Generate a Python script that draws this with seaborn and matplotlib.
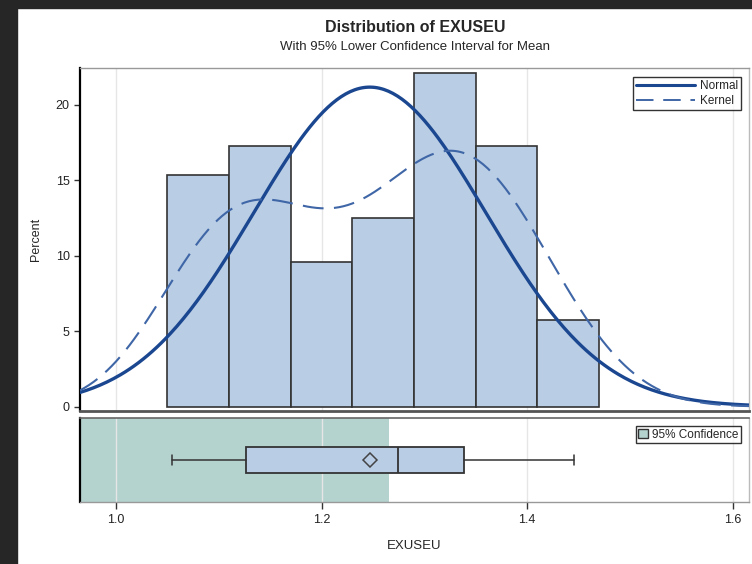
import numpy as np
import matplotlib
matplotlib.use("Agg")
import matplotlib.pyplot as plt
import seaborn as sns
from matplotlib.lines import Line2D
from matplotlib.patches import Patch, Rectangle

# histogram bins (EXUSEU) and percent per bin
bin_edges = [1.05, 1.11, 1.17, 1.23, 1.29, 1.35, 1.41, 1.47]
bin_counts = [16, 18, 10, 13, 23, 18, 6]
n_obs = sum(bin_counts)
bin_percent = [100 * c / n_obs for c in bin_counts]
bin_mids = [(a + b) / 2 for a, b in zip(bin_edges[:-1], bin_edges[1:])]

# summary statistics
mean_val = 1.247
std_val = 0.113
kde_bw = 0.06
box_stats = {"whislo": 1.055, "q1": 1.127, "med": 1.274, "q3": 1.339,
             "whishi": 1.446, "mean": 1.247, "fliers": []}
conf_upper = 1.266

x_ticks = [1.0, 1.2, 1.4, 1.6]
y_ticks = [0, 5, 10, 15, 20]

bar_color = "#B9CDE5"
normal_color = "#1B4790"
kernel_color = "#3F66A6"
band_color = "#B4D3CF"
grid_color = "#E6E6E6"

sns.set_style("white")
plt.rcParams["font.family"] = ["Liberation Sans", "DejaVu Sans"]

fig = plt.figure(figsize=(7.52, 5.64), dpi=100)
# dark screenshot border
fig.patches.append(Rectangle((0, 1 - 8 / 564), 1, 8 / 564, transform=fig.transFigure,
                             color="#262626", zorder=-1))
fig.patches.append(Rectangle((0, 0), 17 / 752, 1, transform=fig.transFigure,
                             color="#262626", zorder=-1))

ax = fig.add_axes([0.1064, 0.2718, 0.8896, 0.6076])
axb = fig.add_axes([0.1064, 0.110, 0.8896, 0.149], sharex=ax)

# histogram
sns.histplot(x=bin_mids, weights=bin_percent, bins=bin_edges, ax=ax,
             color=bar_color, edgecolor="#333333", linewidth=1.2, alpha=1, zorder=2)

xs = np.linspace(0.965, 1.62, 300)
normal_y = 100 * (bin_edges[1] - bin_edges[0]) * np.exp(-0.5 * ((xs - mean_val) / std_val) ** 2) / (std_val * np.sqrt(2 * np.pi))
mids = np.array(bin_mids)[:, None]
w = np.array(bin_counts)[:, None] / n_obs
kernel_y = 100 * (bin_edges[1] - bin_edges[0]) * (w * np.exp(-0.5 * ((xs - mids) / kde_bw) ** 2) / (kde_bw * np.sqrt(2 * np.pi))).sum(axis=0)

sns.lineplot(x=xs, y=normal_y, ax=ax, color=normal_color, linewidth=2.4, zorder=3)
sns.lineplot(x=xs, y=kernel_y, ax=ax, color=kernel_color, linewidth=1.5,
             dashes=False, zorder=3).lines[-1].set_dashes([10, 5])

ax.set_xlim(0.965, 1.616)
ax.set_ylim(-0.27, 22.45)
ax.set_yticks(y_ticks)
ax.set_ylabel("Percent", fontsize=9, labelpad=10)
ax.set_xlabel("")
ax.tick_params(axis="x", bottom=False, labelbottom=False)
ax.tick_params(axis="y", left=True, length=4, width=1, labelsize=9, color="#333333",
               labelcolor="#222222")
ax.set_xticks(x_ticks)
ax.grid(axis="x", color=grid_color, linewidth=1)
ax.set_axisbelow(True)
ax.spines["left"].set(color="black", linewidth=1.6)
ax.spines["bottom"].set(color="#555555", linewidth=2)
ax.spines["top"].set(color="#999999", linewidth=1)
ax.spines["right"].set(color="#bbbbbb", linewidth=1)

leg_handles = [Line2D([0], [0], color=normal_color, linewidth=2.2),
               Line2D([0], [0], color=kernel_color, linewidth=1.4, dashes=[9, 5])]
leg = ax.legend(leg_handles, ["Normal", "Kernel"], loc="upper right", fontsize=8.5,
                frameon=True, fancybox=False, edgecolor="black", handlelength=5,
                borderpad=0.25, labelspacing=0.2, handletextpad=0.4,
                bbox_to_anchor=(0.997, 0.99))
leg.get_frame().set_linewidth(1)

# box panel with confidence band
axb.axvspan(0.9, conf_upper, color=band_color, zorder=0.2, linewidth=0)
axb.bxp([box_stats], positions=[0.5], widths=0.31, vert=False, showmeans=True,
        patch_artist=True, showfliers=False, capwidths=0.12,
        boxprops=dict(facecolor=bar_color, edgecolor="#333333", linewidth=1.3),
        medianprops=dict(color="#333333", linewidth=1.3),
        whiskerprops=dict(color="#333333", linewidth=1.1),
        capprops=dict(color="#333333", linewidth=1.1),
        meanprops=dict(marker="D", markerfacecolor="none", markeredgecolor="#444444",
                       markersize=7, markeredgewidth=1.1))
axb.set_ylim(0, 1)
axb.set_yticks([])
axb.set_xticks(x_ticks)
axb.set_xticklabels([f"{t:.1f}" for t in x_ticks])
axb.tick_params(axis="x", bottom=True, length=5, width=1, labelsize=9, color="#333333",
                labelcolor="#222222")
axb.set_xlabel("EXUSEU", fontsize=9.5, labelpad=10)
axb.grid(axis="x", color=grid_color, linewidth=1, zorder=0.5)
axb.set_axisbelow(True)
axb.spines["left"].set(color="black", linewidth=1.6)
axb.spines["top"].set(color="#666666", linewidth=1.2)
axb.spines["bottom"].set(color="#999999", linewidth=1)
axb.spines["right"].set(color="#bbbbbb", linewidth=1)
leg2 = axb.legend([Patch(facecolor=band_color, edgecolor="#333333")], ["95% Confidence"],
                  loc="upper right", fontsize=8.5, frameon=True, fancybox=False,
                  edgecolor="black", handlelength=0.8, handleheight=0.8,
                  borderpad=0.2, handletextpad=0.4, bbox_to_anchor=(0.997, 0.97))
leg2.get_frame().set_linewidth(1)

fig.text(0.5518, 1 - 27 / 564, "Distribution of EXUSEU", ha="center", va="center",
         fontsize=11.5, fontweight="bold")
fig.text(0.5518, 1 - 47 / 564, "With 95% Lower Confidence Interval for Mean",
         ha="center", va="center", fontsize=9.5)

fig.savefig("out.png", dpi=100)
